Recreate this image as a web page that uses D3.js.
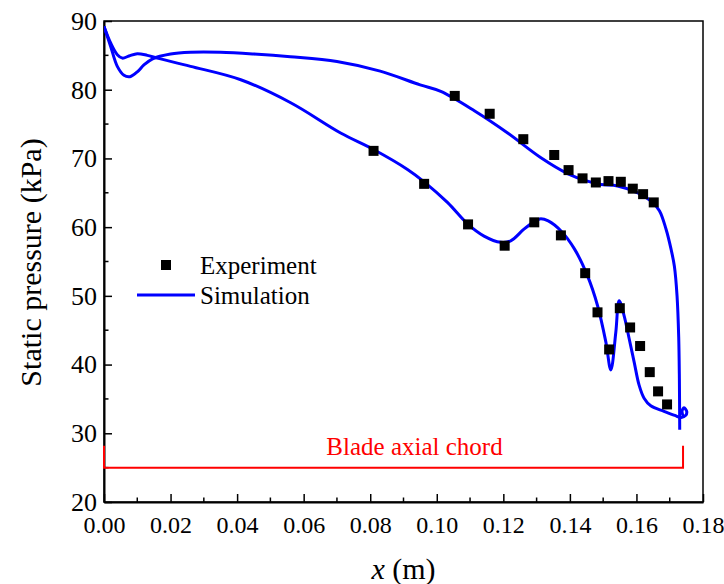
<!DOCTYPE html>
<html>
<head>
<meta charset="utf-8">
<script src="https://cdn.jsdelivr.net/npm/d3@7"></script>
<style>
  html, body { margin: 0; padding: 0; background: #fff; }
  svg text { font-family: "Liberation Serif", "Times New Roman", serif; }
</style>
</head>
<body>
<svg id="chart" width="724" height="584" font-family="Liberation Serif, Times New Roman, serif"></svg>
<script>
// ---- data ----
const xTickValues = [0.00, 0.02, 0.04, 0.06, 0.08, 0.10, 0.12, 0.14, 0.16, 0.18];
const yTickValues = [20, 30, 40, 50, 60, 70, 80, 90];

// Experiment – suction side (lower curve)
const expSuctionX = [0.0810, 0.0962, 0.1094, 0.1204, 0.1293, 0.1373, 0.1446, 0.1483, 0.1518, 0.1550, 0.1581, 0.1611, 0.1640, 0.1665, 0.1692];
const expSuctionY = [71.1, 66.3, 60.4, 57.3, 60.7, 58.8, 53.3, 47.6, 42.2, 48.2, 45.4, 42.7, 38.9, 36.1, 34.2];
// Experiment – pressure side (upper curve)
const expPressureX = [0.1054, 0.1159, 0.1260, 0.1353, 0.1396, 0.1438, 0.1478, 0.1516, 0.1553, 0.1589, 0.1620, 0.1652];
const expPressureY = [79.1, 76.5, 72.8, 70.5, 68.3, 67.1, 66.5, 66.7, 66.6, 65.6, 64.8, 63.6];

// Simulation – pressure side
const simPressureX = [0.0000, 0.0020, 0.0040, 0.0060, 0.0078, 0.0100, 0.0120, 0.0146, 0.0200, 0.0260, 0.0350, 0.0450, 0.0560, 0.0700, 0.0830, 0.0950, 0.1012, 0.1114, 0.1213, 0.1313, 0.1393, 0.1453, 0.1493, 0.1543, 0.1604, 0.1644, 0.1669, 0.1689, 0.1704, 0.1714, 0.1722, 0.1727, 0.1729, 0.1730];
const simPressureY = [89.2, 86.3, 83.4, 82.1, 81.9, 82.6, 83.6, 84.5, 85.2, 85.45, 85.45, 85.2, 84.8, 84.1, 82.7, 80.7, 79.75, 76.9, 73.7, 70.1, 67.8, 66.7, 66.2, 66.0, 65.0, 63.8, 62.4, 59.7, 56.8, 54.3, 50.0, 44.0, 38.0, 30.5];

// Simulation – suction side
const simSuctionX = [0.0000, 0.0020, 0.0040, 0.0055, 0.0075, 0.0100, 0.0130, 0.0160, 0.0260, 0.0411, 0.0561, 0.0711, 0.0810, 0.0912, 0.0962, 0.1032, 0.1094, 0.1142, 0.1192, 0.1222, 0.1262, 0.1293, 0.1310, 0.1335, 0.1374, 0.1414, 0.1453, 0.1483, 0.1508, 0.1523, 0.1538, 0.1548, 0.1563, 0.1578, 0.1593, 0.1608, 0.1623, 0.1643, 0.1683, 0.1715, 0.1735, 0.1748, 0.1751, 0.1743, 0.1737, 0.1742];
const simSuctionY = [89.2, 86.8, 85.1, 84.6, 84.9, 85.25, 85.0, 84.6, 83.4, 81.45, 78.1, 73.7, 71.3, 68.4, 66.6, 63.6, 60.4, 58.7, 57.8, 58.0, 59.7, 60.8, 61.2, 60.9, 59.4, 56.8, 52.9, 48.6, 43.3, 39.2, 44.7, 49.3, 47.1, 43.8, 40.4, 37.0, 35.1, 34.0, 33.2, 32.6, 32.3, 32.6, 33.2, 33.7, 33.2, 32.3];

// Blade axial chord marker
const chordStart = 0.0;
const chordEnd = 0.174;
const chordLevel = 25;
const chordTop = 28.2;

const legendLabels = ["Experiment", "Simulation"];

// ---- layout ----
const svg = d3.select("#chart");
const mL = 104, mR = 703, mT = 21, mB = 502;
const BLUE = "#0000FF", RED = "#FF0000";
const SERIF = "Liberation Serif, Times New Roman, serif";

const x = d3.scaleLinear().domain([0, 0.18]).range([mL, mR]);
const y = d3.scaleLinear().domain([20, 90]).range([mB, mT]);

// frame
svg.append("rect")
  .attr("x", mL).attr("y", mT)
  .attr("width", mR - mL).attr("height", mB - mT)
  .attr("fill", "none").attr("stroke", "#000").attr("stroke-width", 1.5);

// bottom axis (ticks inward)
const xAxis = d3.axisBottom(x).tickValues(xTickValues).tickSizeInner(-8).tickSizeOuter(0)
  .tickFormat(d3.format(".2f")).tickPadding(14);
const gx = svg.append("g").attr("transform", `translate(0,${mB})`).call(xAxis)
  .attr("font-family", SERIF);
gx.select(".domain").attr("stroke", "#000").attr("stroke-width", 2);
gx.selectAll(".tick line").attr("stroke-width", 1.5);
gx.selectAll("text").attr("font-size", 24).attr("fill", "#000");

// minor x ticks
const xMinor = d3.range(0.01, 0.18, 0.02);
svg.append("g").selectAll("line").data(xMinor).join("line")
  .attr("x1", d => x(d)).attr("x2", d => x(d))
  .attr("y1", mB).attr("y2", mB - 4.5)
  .attr("stroke", "#000").attr("stroke-width", 1.5);

// left axis (ticks inward)
const yAxis = d3.axisLeft(y).tickValues(yTickValues).tickSizeInner(-8).tickSizeOuter(0).tickPadding(7);
const gy = svg.append("g").attr("transform", `translate(${mL},0)`).call(yAxis)
  .attr("font-family", SERIF);
gy.select(".domain").attr("stroke", "#000").attr("stroke-width", 2);
gy.selectAll(".tick line").attr("stroke-width", 1.5);
gy.selectAll("text").attr("font-size", 26).attr("fill", "#000");

const yMinor = d3.range(25, 90, 10);
svg.append("g").selectAll("line").data(yMinor).join("line")
  .attr("x1", mL).attr("x2", mL + 4.5)
  .attr("y1", d => y(d)).attr("y2", d => y(d))
  .attr("stroke", "#000").attr("stroke-width", 1.5);

// axis titles
svg.append("text")
  .attr("transform", `translate(41,${(mT + mB) / 2 + 1}) rotate(-90)`)
  .attr("text-anchor", "middle")
  .attr("font-size", 30)
  .text("Static pressure (kPa)");

const xt = svg.append("text")
  .attr("x", (mL + mR) / 2).attr("y", 579)
  .attr("text-anchor", "middle").attr("font-size", 30);
xt.append("tspan").attr("font-style", "italic").text("x");
xt.append("tspan").text(" (m)");

// blade axial chord
const chordPath = d3.line()([
  [x(chordStart), y(chordTop)], [x(chordStart), y(chordLevel)],
  [x(chordEnd), y(chordLevel)], [x(chordEnd), y(chordTop)]
]);
svg.append("path").attr("d", chordPath).attr("fill", "none")
  .attr("stroke", RED).attr("stroke-width", 2);
svg.append("text")
  .attr("x", x((chordStart + chordEnd) / 2) + 21).attr("y", y(chordLevel) - 13)
  .attr("text-anchor", "middle").attr("font-size", 25).attr("fill", RED)
  .text("Blade axial chord");

// simulation curves
const line = d3.line().x(d => x(d[0])).y(d => y(d[1])).curve(d3.curveCatmullRom.alpha(0.5));
svg.append("clipPath").attr("id", "clip").append("rect")
  .attr("x", mL).attr("y", mT).attr("width", mR - mL).attr("height", mB - mT);

const plot = svg.append("g").attr("clip-path", "url(#clip)");
plot.append("path").datum(d3.zip(simPressureX, simPressureY))
  .attr("d", line).attr("fill", "none").attr("stroke", BLUE).attr("stroke-width", 3);
plot.append("path").datum(d3.zip(simSuctionX, simSuctionY))
  .attr("d", line).attr("fill", "none").attr("stroke", BLUE).attr("stroke-width", 3);

// experiment markers
const sq = 10;
const expAll = d3.zip(expSuctionX, expSuctionY).concat(d3.zip(expPressureX, expPressureY));
svg.append("g").selectAll("rect").data(expAll).join("rect")
  .attr("x", d => x(d[0]) - sq / 2).attr("y", d => y(d[1]) - sq / 2)
  .attr("width", sq).attr("height", sq).attr("fill", "#000");

// legend
const lg = svg.append("g");
lg.append("rect").attr("x", 166 - sq / 2).attr("y", 265 - sq / 2)
  .attr("width", sq).attr("height", sq).attr("fill", "#000");
lg.append("line").attr("x1", 137).attr("x2", 195).attr("y1", 295).attr("y2", 295)
  .attr("stroke", BLUE).attr("stroke-width", 3);
lg.selectAll("text").data(legendLabels).join("text")
  .attr("x", 200).attr("y", (d, i) => 274 + i * 30)
  .attr("font-size", 25).attr("fill", "#000").text(d => d);
</script>
</body>
</html>
